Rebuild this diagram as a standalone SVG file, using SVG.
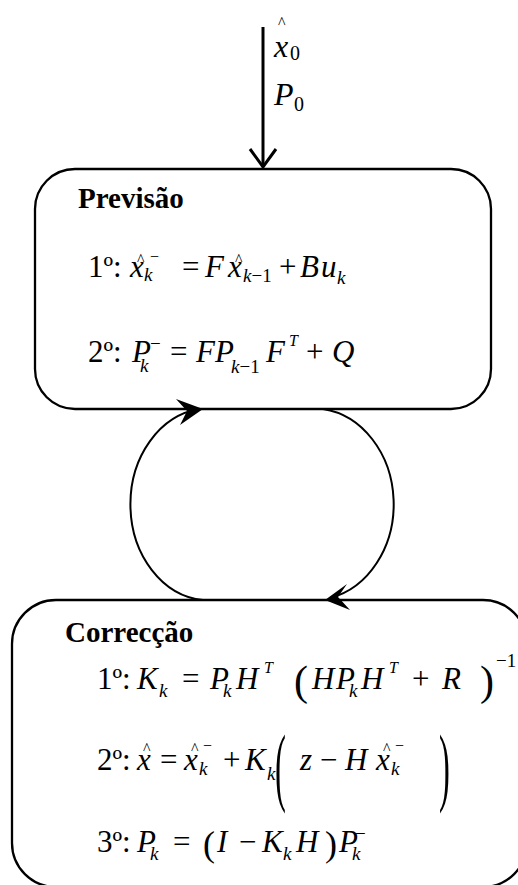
<svg xmlns="http://www.w3.org/2000/svg" width="518" height="885" viewBox="0 0 518 885">
<style>
text{font-family:"Liberation Serif","Times New Roman",serif;fill:#000}
.i{font-style:italic}
.b{font-weight:bold;font-size:29px}
.m{font-size:31px}
.s{font-size:19px}
.h{font-size:16px}
.box{fill:none;stroke:#000;stroke-width:2.3}
.con{fill:none;stroke:#000;stroke-width:2}
.head{fill:#000;stroke:none}
</style>
<rect width="518" height="885" fill="#fff"/>
<g id="connectors">
  <line x1="263" y1="27" x2="263" y2="166" stroke="#000" stroke-width="3"/>
  <polyline points="250,149 263,167 276,149" fill="none" stroke="#000" stroke-width="3"/>
  <path class="con" d="M 203 600 A 79 96 0 0 1 200 409"/>
  <polygon class="head" points="203,409 176,399 187,411 180,425"/>
  <path class="con" d="M 323 409 A 81 96 0 0 1 330 598"/>
  <polygon class="head" points="325,600 347,584 338,597 350,610"/>
  <g id="init-label">
    <text x="278" y="28" style="font-size:16px">^</text>
    <text class="i" x="274" y="57" style="font-size:32px">x</text>
    <text x="290" y="60" style="font-size:20px">0</text>
    <text class="i" x="274" y="105" style="font-size:32px">P</text>
    <text x="294" y="111" style="font-size:20px">0</text>
  </g>
</g>
<g id="previsao">
  <rect class="box" x="35" y="169" width="456" height="240" rx="40"/>
  <text class="b" x="78" y="208">Previsão</text>
  <text class="m" x="88" y="277">1º:</text>
  <text class="h" x="137" y="265">^</text>
  <text class="h" x="150" y="262">−</text>
  <text class="m i" x="130" y="277">x</text>
  <text class="s i" x="144" y="281">k</text>
  <text class="m" x="182" y="277">=</text>
  <text class="m i" x="205" y="277">F</text>
  <text class="h" x="235" y="265">^</text>
  <text class="m i" x="228" y="277">x</text>
  <text class="s" x="243" y="282"><tspan class="i">k</tspan>−1</text>
  <text class="m" x="279" y="277">+</text>
  <text class="m i" x="300" y="277">B</text>
  <text class="m i" x="321" y="277">u</text>
  <text class="s i" x="337" y="284">k</text>
  <text class="m" x="88" y="362">2º:</text>
  <text class="m i" x="132" y="362">P</text>
  <text class="s i" x="140" y="372">k</text>
  <text class="s" x="150" y="350">−</text>
  <text class="m" x="170" y="362">=</text>
  <text class="m i" x="196" y="362">F</text>
  <text class="m i" x="215" y="362">P</text>
  <text class="s" x="231" y="373"><tspan class="i">k</tspan>−1</text>
  <text class="m i" x="266" y="362">F</text>
  <text class="h i" x="289" y="346">T</text>
  <text class="m" x="306" y="362">+</text>
  <text class="m i" x="332" y="362">Q</text>
</g>
<g id="correccao">
  <rect class="box" x="12" y="600" width="515" height="287" rx="44"/>
  <text class="b" x="65" y="642">Correcção</text>
  <text class="m" x="97" y="689">1º:</text>
  <text class="m i" x="137" y="689">K</text>
  <text class="s i" x="159" y="697">k</text>
  <text class="m" x="182" y="689">=</text>
  <text class="m i" x="210" y="689">P</text>
  <text class="s i" x="223" y="697">k</text>
  <text class="m i" x="236" y="689">H</text>
  <text class="h i" x="264" y="673">T</text>
  <text x="294" y="695" style="font-size:42px">(</text>
  <text class="m i" x="312" y="689">H</text>
  <text class="m i" x="336" y="689">P</text>
  <text class="s i" x="349" y="697">k</text>
  <text class="m i" x="361" y="689">H</text>
  <text class="h i" x="389" y="673">T</text>
  <text class="m" x="412" y="689">+</text>
  <text class="m i" x="442" y="689">R</text>
  <text x="480" y="695" style="font-size:42px">)</text>
  <text class="s" x="496" y="667">−1</text>
  <text class="m" x="97" y="770">2º:</text>
  <text class="h" x="143" y="754">^</text>
  <text class="m i" x="137" y="770">x</text>
  <text class="m" x="160" y="770">=</text>
  <text class="h" x="191" y="754">^</text>
  <text class="h" x="203" y="751">−</text>
  <text class="m i" x="184" y="770">x</text>
  <text class="s i" x="199" y="775">k</text>
  <text class="m" x="223" y="770">+</text>
  <text class="m i" x="245" y="770">K</text>
  <text class="s i" x="267" y="780">k</text>
  <text transform="translate(275,795) scale(0.38,1)" style="font-size:86px">(</text>
  <text class="m i" x="300" y="770">z</text>
  <text class="m" x="320" y="770">−</text>
  <text class="m i" x="345" y="770">H</text>
  <text class="h" x="383" y="754">^</text>
  <text class="h" x="395" y="751">−</text>
  <text class="m i" x="376" y="770">x</text>
  <text class="s i" x="391" y="775">k</text>
  <text transform="translate(439,795) scale(0.38,1)" style="font-size:86px">)</text>
  <text class="m" x="97" y="852">3º:</text>
  <text class="m i" x="137" y="852">P</text>
  <text class="s i" x="150" y="860">k</text>
  <text class="m" x="173" y="852">=</text>
  <text x="203" y="856" style="font-size:36px">(</text>
  <text class="m i" x="217" y="852">I</text>
  <text class="m" x="239" y="852">−</text>
  <text class="m i" x="262" y="852">K</text>
  <text class="s i" x="283" y="860">k</text>
  <text class="m i" x="296" y="852">H</text>
  <text x="325" y="856" style="font-size:36px">)</text>
  <text class="m i" x="339" y="852">P</text>
  <text class="s i" x="352" y="860">k</text>
  <text class="s" x="355" y="840">−</text>
</g>
</svg>
